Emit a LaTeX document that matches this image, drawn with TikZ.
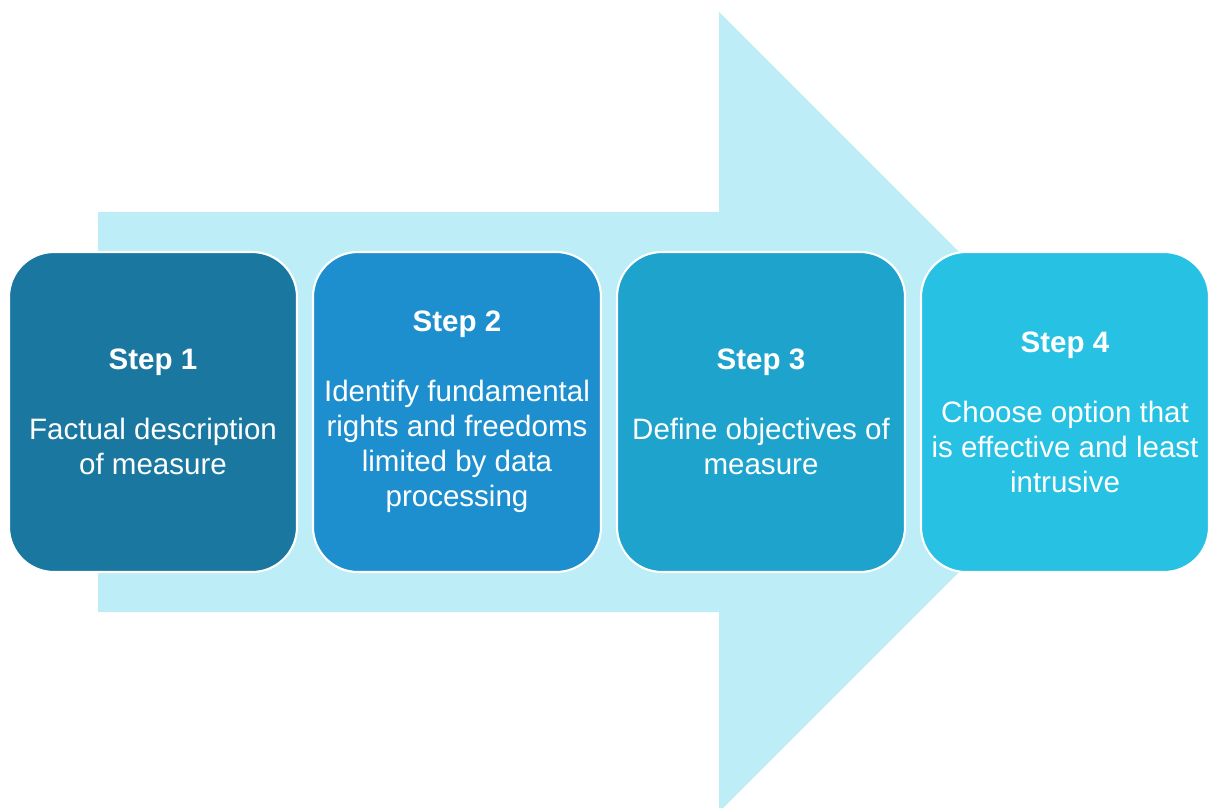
\documentclass[tikz,border=0pt]{standalone}
\usepackage{fontspec}
\setmainfont{Liberation Sans}
\usetikzlibrary{positioning}

\definecolor{arrowblue}{HTML}{BDEDF7}
\definecolor{stepone}{HTML}{1A78A0}
\definecolor{steptwo}{HTML}{1E8FCE}
\definecolor{stepthree}{HTML}{1EA3CC}
\definecolor{stepfour}{HTML}{27C1E4}

\begin{document}
\begin{tikzpicture}[
        stepbox/.style={draw=white, line width=0.6pt, rounded corners=0.45cm,
            minimum width=2.88cm, minimum height=3.2cm, inner sep=0pt, outer sep=0pt,
            text=white, align=center, font=\fontsize{8.4}{9.96}\selectfont},
        node distance=0.16cm
    ]
            % Fix the page size
            \useasboundingbox (0,0) rectangle (12.09,8.07);

            % Draw the big arrow behind the steps
            \fill[arrowblue] (0.98,1.95) -- (0.98,5.95) -- (7.19,5.95) -- (7.19,7.95)
                -- (11.19,3.95) -- (7.19,-0.05) -- (7.19,1.95) -- cycle;

            % Draw the four steps
            \node[stepbox, fill=stepone] (step1) at (1.53,3.95)
                {\textbf{Step 1}\\[9.96pt] Factual description\\ of measure};
            \node[stepbox, fill=steptwo, right=of step1] (step2)
                {\textbf{Step 2}\\[9.96pt] Identify fundamental\\ rights and freedoms\\ limited by data\\ processing};
            \node[stepbox, fill=stepthree, right=of step2] (step3)
                {\textbf{Step 3}\\[9.96pt] Define objectives of\\ measure};
            \node[stepbox, fill=stepfour, right=of step3] (step4)
                {\textbf{Step 4}\\[9.96pt] Choose option that\\ is effective and least\\ intrusive};

        \end{tikzpicture}
\end{document}
